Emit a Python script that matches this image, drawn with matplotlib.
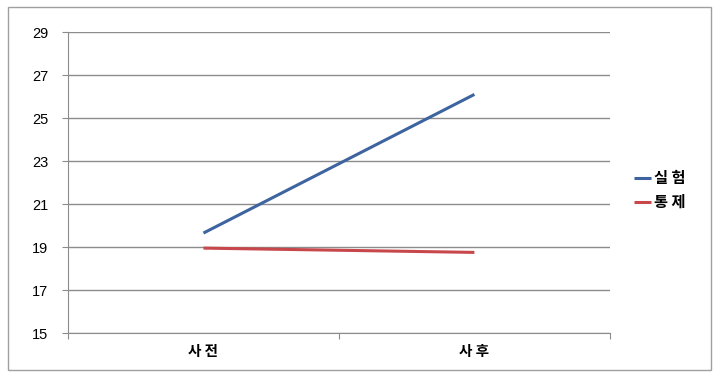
import matplotlib.pyplot as plt
from matplotlib.patches import Rectangle

plt.rcParams['font.family'] = ['Noto Sans CJK KR', 'DejaVu Sans']

categories = ['사 전', '사 후']
experiment = [19.65, 26.1]
control = [18.95, 18.75]
series_names = ['실 험', '통 제']
y_ticks = [15, 17, 19, 21, 23, 25, 27, 29]

fig = plt.figure(figsize=(7.14, 3.72), dpi=100)
fig.patches.append(Rectangle((0.011, 0.005), 0.985, 0.975, transform=fig.transFigure,
                             fill=False, edgecolor='#a0a0a0', linewidth=1))
ax = fig.add_axes([0.0952, 0.1048, 0.759, 0.809])

x = range(len(categories))
ax.plot(x, experiment, color='#3e64a0', linewidth=2.2, label=series_names[0], solid_capstyle='butt')
ax.plot(x, control, color='#c8474b', linewidth=2.2, label=series_names[1], solid_capstyle='butt')

ax.set_xlim(-0.5, 1.5)
ax.set_ylim(15, 29)
ax.set_yticks(y_ticks)
ax.set_yticklabels([str(v) for v in y_ticks], fontsize=10.5, family=['Liberation Sans', 'DejaVu Sans'])
ax.yaxis.grid(True, color='#8c8c8c', linewidth=1)
ax.set_axisbelow(True)

ax.set_xticks([-0.5, 0.5, 1.5])
ax.set_xticklabels([])
ax.set_xticks(list(x), minor=True)
ax.set_xticklabels(categories, minor=True, fontsize=10.5, fontweight='bold')
ax.tick_params(axis='x', which='minor', length=0, pad=7)
ax.tick_params(axis='x', which='major', length=4, color='#8c8c8c', direction='out')
ax.tick_params(axis='y', length=4, color='#8c8c8c', pad=10)

for side in ['top', 'right']:
    ax.spines[side].set_visible(False)
ax.spines['left'].set_color('#8c8c8c')
ax.spines['bottom'].set_color('#8c8c8c')

leg = ax.legend(loc='center left', bbox_to_anchor=(1.02, 0.475), frameon=False,
                handlelength=1.1, handletextpad=0.15, labelspacing=0.5,
                prop={'size': 11, 'weight': 'bold'})

fig.savefig('out.png', dpi=100)
